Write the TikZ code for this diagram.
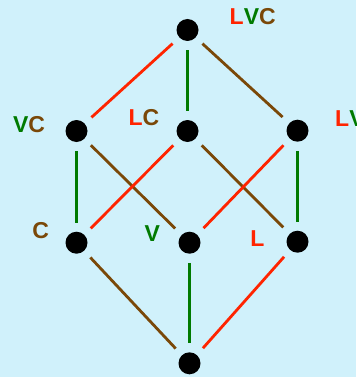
\documentclass[tikz,border=0pt]{standalone}
\usepackage{fontspec}
\setmainfont{Liberation Sans}
\definecolor{bgblue}{RGB}{208,241,251}
\definecolor{lred}{RGB}{255,36,0}
\definecolor{lgreen}{RGB}{0,122,0}
\definecolor{lbrown}{RGB}{122,72,8}
\begin{document}
\begin{tikzpicture}[x=1pt,y=-1pt,
  vertex/.style={circle,fill=black,minimum size=22pt,inner sep=0pt},
  lbl/.style={font=\fontsize{23}{23}\selectfont\bfseries,inner sep=0pt,anchor=base},
  edge/.style={line width=2.8pt,shorten <=9pt,shorten >=9pt}]
\fill[bgblue] (0,0) rectangle (356,377);
\useasboundingbox (0,0) rectangle (356,377);

% lattice elements
\node[vertex] (lvc) at (187.5,30) {};
\node[vertex] (vc)  at (76.5,131) {};
\node[vertex] (lc)  at (187.5,131) {};
\node[vertex] (lv)  at (297.5,130.7) {};
\node[vertex] (c)   at (76.5,242.7) {};
\node[vertex] (v)   at (189.5,242.7) {};
\node[vertex] (l)   at (297.5,241.7) {};
\node[vertex] (bot) at (189.5,363.3) {};

% labels
\node[lbl] (tlvc) at (252.7,25) {\textcolor{lred}{L}\textcolor{lgreen}{V}\textcolor{lbrown}{C}};
\node[lbl] (tvc)  at (29,132.3) {\textcolor{lgreen}{V}\textcolor{lbrown}{C}};
\node[lbl] (tlc)  at (144,125) {\textcolor{lred}{L}\textcolor{lbrown}{C}};
\node[lbl,anchor=base west] (tlv) at (335,126) {\textcolor{lred}{L}\textcolor{lgreen}{V}};
\node[lbl] (tc)   at (40.7,238.5) {\textcolor{lbrown}{C}};
\node[lbl] (tv)   at (152.2,241) {\textcolor{lgreen}{V}};
\node[lbl] (tl)   at (257.3,246.7) {\textcolor{lred}{L}};

% covering relations
\draw[edge,lred]   (lvc) -- (vc);
\draw[edge,lgreen] (lvc) -- (lc);
\draw[edge,lbrown] (lvc) -- (lv);
\draw[edge,lgreen] (vc) -- (c);
\draw[edge,lbrown] (vc) -- (v);
\draw[edge,lred]   (lc) -- (c);
\draw[edge,lbrown] (lc) -- (l);
\draw[edge,lred]   (lv) -- (v);
\draw[edge,lgreen] (lv) -- (l);
\draw[edge,lbrown] (c) -- (bot);
\draw[edge,lgreen] (v) -- (bot);
\draw[edge,lred]   (l) -- (bot);
\end{tikzpicture}
\end{document}
